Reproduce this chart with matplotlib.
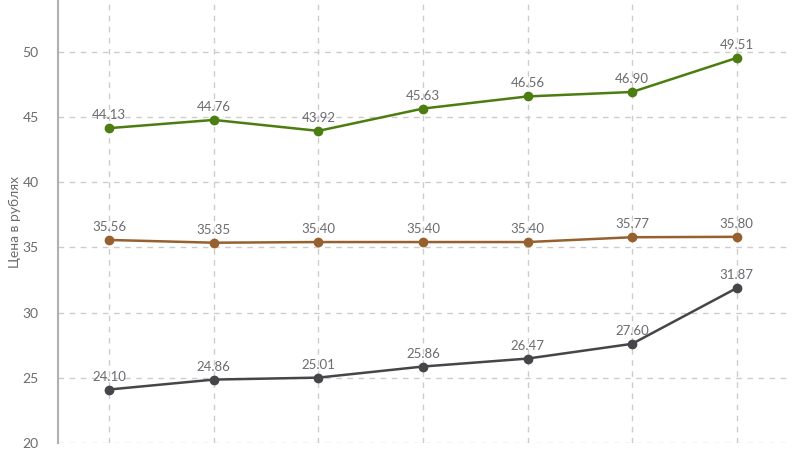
import matplotlib
matplotlib.use("Agg")
import matplotlib.pyplot as plt

plt.rcParams['font.family'] = ['Lato', 'DejaVu Sans']

categories = ["1", "2", "3", "4", "5", "6", "7"]
green_vals = [44.13, 44.76, 43.92, 45.63, 46.56, 46.90, 49.51]
brown_vals = [35.56, 35.35, 35.40, 35.40, 35.40, 35.77, 35.80]
dark_vals = [24.10, 24.86, 25.01, 25.86, 26.47, 27.60, 31.87]
yticks = [20, 25, 30, 35, 40, 45, 50]

fig = plt.figure(figsize=(8, 4.5), dpi=100)
ax = fig.add_axes([58/800, 7/450, 732/800, 443/450])

x = list(range(len(categories)))
series = [(green_vals, '#4b7d10'), (brown_vals, '#96602f'), (dark_vals, '#46464a')]
for vals, col in series:
    ax.plot(x, vals, color=col, lw=1.8, marker='o', ms=6, zorder=3)
    for xi, v in zip(x, vals):
        ax.annotate(f"{v:.2f}", (xi, v), xytext=(0, 5), textcoords='offset points',
                    ha='center', va='bottom', fontsize=9.5, color='#6b6b70', zorder=4)

ax.set_xlim(-0.49, 6.51)
ax.set_ylim(20, 53.95)
ax.set_yticks(yticks)
ax.set_xticks(x)
ax.set_xticklabels([])
ax.tick_params(axis='both', length=0, labelsize=10, colors='#6b6b70')
ax.tick_params(axis='y', pad=14)
ax.grid(True, color='#cccccc', linestyle=(0, (4, 4)), lw=1)
ax.set_axisbelow(True)
for s in ['top', 'right', 'bottom']:
    ax.spines[s].set_visible(False)
ax.spines['left'].set_color('#b0b0b0')
ax.spines['left'].set_linewidth(1.5)
ax.set_ylabel("Цена в рублях", fontsize=10, color='#6b6b70')
ax.yaxis.set_label_coords(-37/732, 0.5)

fig.savefig("out.png", dpi=100)
